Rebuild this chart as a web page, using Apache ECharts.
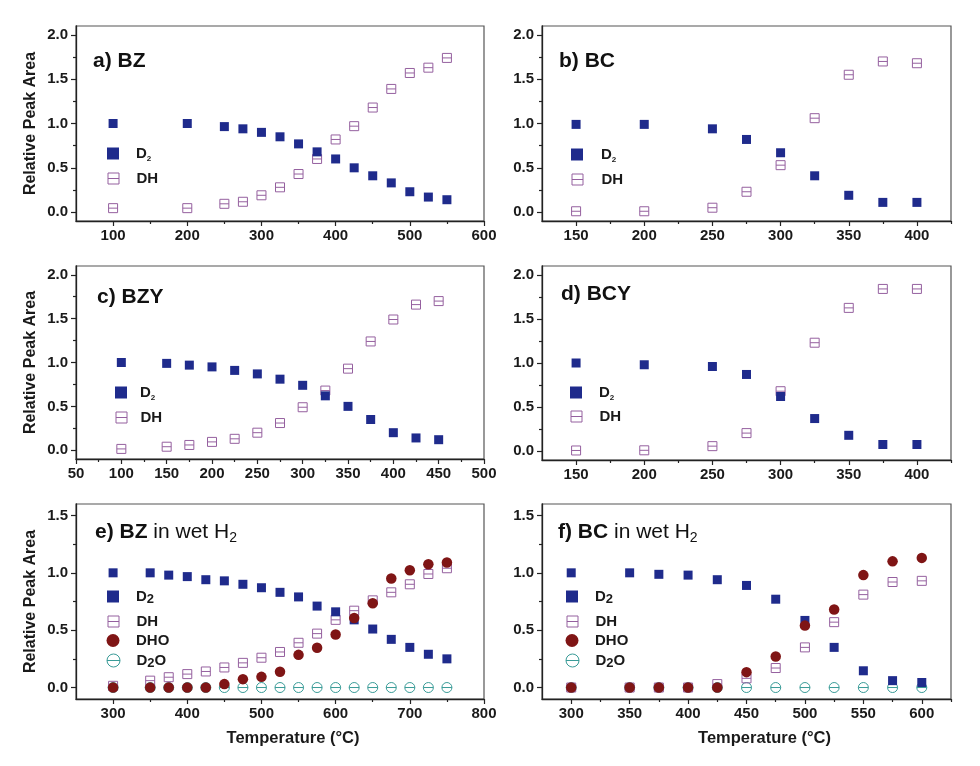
<!DOCTYPE html>
<html>
<head>
<meta charset="utf-8">
<script src="https://cdn.jsdelivr.net/npm/echarts@6/dist/echarts.min.js"></script>
<style>html,body{margin:0;padding:0;background:#fff}#c{width:980px;height:766px}</style>
</head>
<body>
<div id="c"></div>
<script>
// ---------- data ----------
var xA = [100, 200, 250, 275, 300, 325, 350, 375, 400, 425, 450, 475, 500, 525, 550];
var aD2 = [1.0, 1.0, 0.965, 0.94, 0.90, 0.85, 0.77, 0.68, 0.60, 0.50, 0.41, 0.33, 0.23, 0.17, 0.14];
var aDH = [0.045, 0.045, 0.094, 0.117, 0.19, 0.28, 0.43, 0.60, 0.82, 0.97, 1.18, 1.39, 1.57, 1.63, 1.74];

var xB = [150, 200, 250, 275, 300, 325, 350, 375, 400];
var bD2 = [0.99, 0.99, 0.94, 0.82, 0.67, 0.41, 0.19, 0.11, 0.11];
var bDH = [0.01, 0.01, 0.05, 0.23, 0.53, 1.06, 1.55, 1.70, 1.68];

var xC = [100, 150, 175, 200, 225, 250, 275, 300, 325, 350, 375, 400, 425, 450];
var cD2 = [1.0, 0.99, 0.97, 0.95, 0.91, 0.87, 0.81, 0.74, 0.62, 0.50, 0.35, 0.20, 0.14, 0.12];
var cDH = [0.015, 0.04, 0.06, 0.095, 0.13, 0.20, 0.31, 0.49, 0.68, 0.93, 1.24, 1.49, 1.66, 1.70];

var xD = [150, 200, 250, 275, 300, 325, 350, 375, 400];
var dD2 = [1.0, 0.98, 0.96, 0.87, 0.62, 0.37, 0.18, 0.076, 0.076];
var dDH = [0.008, 0.01, 0.057, 0.205, 0.68, 1.23, 1.625, 1.84, 1.84];

var xE = [300, 350, 375, 400, 425, 450, 475, 500, 525, 550, 575, 600, 625, 650, 675, 700, 725, 750];
var eD2 = [1.0, 1.0, 0.98, 0.967, 0.94, 0.93, 0.90, 0.87, 0.83, 0.79, 0.71, 0.66, 0.59, 0.51, 0.42, 0.35, 0.29, 0.25];
var eDH = [0.015, 0.06, 0.09, 0.117, 0.14, 0.175, 0.215, 0.26, 0.31, 0.39, 0.47, 0.59, 0.67, 0.76, 0.83, 0.90, 0.99, 1.04];
var eDHO = [0, 0, 0, 0, 0, 0.03, 0.073, 0.093, 0.137, 0.285, 0.347, 0.463, 0.606, 0.734, 0.95, 1.022, 1.075, 1.09];
var eD2O = [0, 0, 0, 0, 0, 0, 0, 0, 0, 0, 0, 0, 0, 0, 0, 0, 0, 0];

var xF = [300, 350, 375, 400, 425, 450, 475, 500, 525, 550, 575, 600];
var fD2 = [1.0, 1.0, 0.987, 0.98, 0.94, 0.89, 0.77, 0.585, 0.35, 0.146, 0.06, 0.044];
var fDH = [0, 0, 0, 0, 0.03, 0.08, 0.17, 0.35, 0.57, 0.81, 0.92, 0.93];
var fDHO = [0, 0, 0, 0, 0, 0.134, 0.27, 0.54, 0.68, 0.98, 1.10, 1.13];
var fD2O = [0, 0, 0, 0, 0, 0, 0, 0, 0, 0, 0, 0];

// tick labels
var yTicksTall = [0, 0.5, 1.0, 1.5, 2.0];
var yMinorTall = [0.25, 0.75, 1.25, 1.75];
var yTicksShort = [0, 0.5, 1.0, 1.5];
var yMinorShort = [0.25, 0.75, 1.25];
var xTicksA = [100, 200, 300, 400, 500, 600];
var xMinorA = [150, 250, 350, 450, 550];
var xTicksB = [150, 200, 250, 300, 350, 400];
var xMinorB = [175, 225, 275, 325, 375, 425];
var xTicksC = [50, 100, 150, 200, 250, 300, 350, 400, 450, 500];
var xMinorC = [75, 125, 175, 225, 275, 325, 375, 425, 475];
var xTicksE = [300, 400, 500, 600, 700, 800];
var xMinorE = [350, 450, 550, 650, 750];
var xTicksF = [300, 350, 400, 450, 500, 550, 600];
var xMinorF = [325, 375, 425, 475, 525, 575, 625];

// ---------- styles ----------
var C_D2 = '#1f2b8c', C_DH = '#95609f', C_DHO = '#7f1515', C_D2O = '#3a9c98';
var SQ_LINE = 'path://M0,0L10,0L10,10L0,10Z M0,5L10,5';
var CI_LINE = 'path://M0,5A5,5,0,1,1,10,5A5,5,0,1,1,0,5Z M0,5L10,5';
var FONT = 'Liberation Sans, Arial, sans-serif';

function zip(xs, ys) { return xs.map(function (x, i) { return [x, ys[i]]; }); }

var styles = {
  D2: { symbol: 'rect', symbolSize: 9, itemStyle: { color: C_D2, opacity: 1 } },
  DH: { symbol: SQ_LINE, symbolSize: 9, itemStyle: { color: 'rgba(255,255,255,0)', borderColor: C_DH, borderWidth: 1, opacity: 1 } },
  DHO: { symbol: 'circle', symbolSize: 10.5, itemStyle: { color: C_DHO, opacity: 1 } },
  D2O: { symbol: CI_LINE, symbolSize: 10, itemStyle: { color: 'rgba(255,255,255,0)', borderColor: C_D2O, borderWidth: 1, opacity: 1 } }
};

var option = {
  backgroundColor: '#fff',
  animation: false,
  textStyle: { fontFamily: FONT },
  grid: [], xAxis: [], yAxis: [], series: [], legend: [], title: []
};

function addPanel(p) {
  var gi = option.grid.length;
  option.grid.push({ left: p.grid[0], top: p.grid[1], width: p.grid[2], height: p.grid[3],
    show: true, borderColor: '#555', borderWidth: 1.2, backgroundColor: 'transparent' });
  var xi = option.xAxis.length, yi = option.yAxis.length;
  option.xAxis.push({
    type: 'value', gridIndex: gi, min: p.xr[0], max: p.xr[1], position: 'bottom',
    axisLine: { show: true, onZero: false, lineStyle: { color: '#222', width: 1.3 } },
    axisTick: { show: true, inside: false, length: 5, customValues: p.xt, lineStyle: { color: '#222', width: 1.2 } },
    axisLabel: { show: true, customValues: p.xt, margin: 7, fontSize: 15, fontWeight: 'bold', color: '#1a1a1a', fontFamily: FONT },
    splitLine: { show: false },
    name: p.xname || '', nameLocation: 'middle', nameGap: 31,
    nameTextStyle: { fontSize: 16.5, fontWeight: 'bold', color: '#1a1a1a', fontFamily: FONT, padding: [0, 0, 0, p.xnamePad || 0] }
  });
  option.xAxis.push({
    type: 'value', gridIndex: gi, min: p.xr[0], max: p.xr[1], position: 'bottom',
    axisLine: { show: false, onZero: false },
    axisTick: { show: true, inside: false, length: 3, customValues: p.xm, lineStyle: { color: '#222', width: 1.2 } },
    axisLabel: { show: false }, splitLine: { show: false }
  });
  option.yAxis.push({
    type: 'value', gridIndex: gi, min: p.yr[0], max: p.yr[1], position: 'left',
    axisLine: { show: true, onZero: false, lineStyle: { color: '#222', width: 1.3 } },
    axisTick: { show: true, inside: false, length: 5, customValues: p.yt, lineStyle: { color: '#222', width: 1.2 } },
    axisLabel: { show: true, customValues: p.yt, margin: 8, fontSize: 15, fontWeight: 'bold', color: '#1a1a1a', fontFamily: FONT,
      formatter: function (v) { return v.toFixed(1); } },
    splitLine: { show: false },
    name: p.yname || '', nameLocation: 'middle', nameGap: 37, nameRotate: 90,
    nameTextStyle: { fontSize: 16, fontWeight: 'bold', color: '#1a1a1a', fontFamily: FONT }
  });
  option.yAxis.push({
    type: 'value', gridIndex: gi, min: p.yr[0], max: p.yr[1], position: 'left',
    axisLine: { show: false, onZero: false },
    axisTick: { show: true, inside: false, length: 3, customValues: p.ym, lineStyle: { color: '#222', width: 1.2 } },
    axisLabel: { show: false }, splitLine: { show: false }
  });
  p.series.forEach(function (s) {
    var st = styles[s.name];
    option.series.push({
      type: 'scatter', name: s.name, xAxisIndex: xi, yAxisIndex: yi,
      symbol: st.symbol, symbolSize: st.symbolSize, itemStyle: st.itemStyle,
      data: zip(p.x, s.data), emphasis: { disabled: true }
    });
  });
  // legends (one per item for exact placement)
  p.legend.forEach(function (L) {
    var iw = L.size, ih = L.size;
    option.legend.push({
      data: [L.name], orient: 'vertical', selectedMode: false,
      left: L.cx - iw / 2, top: L.cy - 9, itemWidth: iw, itemHeight: ih, padding: 0,
      itemStyle: L.name === 'DH' || L.name === 'D2O' ? { borderWidth: 1, opacity: 1 } : { opacity: 1 },
      textStyle: {
        padding: [0, 0, 0, L.tx - (L.cx + iw / 2) - 5],
        rich: {
          m: { fontSize: 15, fontWeight: 'bold', color: '#1a1a1a', fontFamily: FONT, lineHeight: 18 },
          s: { fontSize: p.subBig ? 13 : 8, fontWeight: 'bold', color: '#1a1a1a', fontFamily: FONT, lineHeight: p.subBig ? 12 : 8, verticalAlign: 'bottom' },
          s2: { fontSize: 13, fontWeight: 'bold', color: '#1a1a1a', fontFamily: FONT, lineHeight: 12, verticalAlign: 'bottom' }
        }
      },
      formatter: function (name) {
        if (name === 'D2') return '{m|D}{s|2}';
        if (name === 'D2O') return '{m|D}{s2|2}{m|O}';
        return '{m|' + name + '}';
      }
    });
  });
  option.title.push({
    text: p.title, left: p.tpos[0], top: p.tpos[1], padding: 0,
    textStyle: {
      rich: {
        b: { fontSize: 21, fontWeight: 'bold', color: '#111', fontFamily: FONT, lineHeight: 26 },
        n: { fontSize: 21, fontWeight: 'normal', color: '#111', fontFamily: FONT, lineHeight: 26 },
        s: { fontSize: 14, fontWeight: 'normal', color: '#111', fontFamily: FONT, lineHeight: 14, verticalAlign: 'bottom' }
      }
    }
  });
}

function legendFor(names, cx, cys, tx, sizes) {
  return names.map(function (n, i) { return { name: n, cx: cx, cy: cys[i], tx: tx, size: sizes[i] }; });
}

addPanel({ grid: [76, 26, 408, 195], xr: [50, 600], yr: [-0.1, 2.1], xt: xTicksA, xm: xMinorA, yt: yTicksTall, ym: yMinorTall,
  yname: 'Relative Peak Area', x: xA, series: [{ name: 'DH', data: aDH }, { name: 'D2', data: aD2 }],
  legend: legendFor(['D2', 'DH'], 113, [155, 180], 136, [12, 11]), title: '{b|a) BZ}', tpos: [93, 48] });
addPanel({ grid: [542, 26, 409, 195], xr: [125, 425], yr: [-0.1, 2.1], xt: xTicksB, xm: xMinorB, yt: yTicksTall, ym: yMinorTall,
  x: xB, series: [{ name: 'DH', data: bDH }, { name: 'D2', data: bD2 }],
  legend: legendFor(['D2', 'DH'], 577, [156, 181], 601, [12, 11]), title: '{b|b) BC}', tpos: [559, 48] });
addPanel({ grid: [76, 266, 408, 193], xr: [50, 500], yr: [-0.1, 2.1], xt: xTicksC, xm: xMinorC, yt: yTicksTall, ym: yMinorTall,
  yname: 'Relative Peak Area', x: xC, series: [{ name: 'DH', data: cDH }, { name: 'D2', data: cD2 }],
  legend: legendFor(['D2', 'DH'], 121, [394, 419], 140, [12, 11]), title: '{b|c) BZY}', tpos: [97, 284] });
addPanel({ grid: [542, 266, 409, 194], xr: [125, 425], yr: [-0.1, 2.1], xt: xTicksB, xm: xMinorB, yt: yTicksTall, ym: yMinorTall,
  x: xD, series: [{ name: 'DH', data: dDH }, { name: 'D2', data: dD2 }],
  legend: legendFor(['D2', 'DH'], 576, [394, 418], 599, [12, 11]), title: '{b|d) BCY}', tpos: [561, 281] });
addPanel({ grid: [76, 504, 408, 195], xr: [250, 800], yr: [-0.1, 1.6], xt: xTicksE, xm: xMinorE, yt: yTicksShort, ym: yMinorShort,
  yname: 'Relative Peak Area', xname: 'Temperature (°C)', xnamePad: 26, subBig: true, x: xE,
  series: [{ name: 'D2O', data: eD2O }, { name: 'DH', data: eDH }, { name: 'D2', data: eD2 }, { name: 'DHO', data: eDHO }],
  legend: legendFor(['D2', 'DH', 'DHO', 'D2O'], 113, [598, 623, 642, 662], 136, [12, 11, 13, 13]),
  title: '{b|e) BZ}{n| in wet H}{s|2}', tpos: [95, 519] });
addPanel({ grid: [542, 504, 409, 195], xr: [275, 625], yr: [-0.1, 1.6], xt: xTicksF, xm: xMinorF, yt: yTicksShort, ym: yMinorShort,
  xname: 'Temperature (°C)', xnamePad: 36, subBig: true, x: xF,
  series: [{ name: 'D2O', data: fD2O }, { name: 'DH', data: fDH }, { name: 'D2', data: fD2 }, { name: 'DHO', data: fDHO }],
  legend: legendFor(['D2', 'DH', 'DHO', 'D2O'], 572, [598, 623, 642, 662], 595, [12, 11, 13, 13]),
  title: '{b|f) BC}{n| in wet H}{s|2}', tpos: [558, 519] });

var chart = echarts.init(document.getElementById('c'), null, { renderer: 'canvas' });
chart.setOption(option);
</script>
</body>
</html>
